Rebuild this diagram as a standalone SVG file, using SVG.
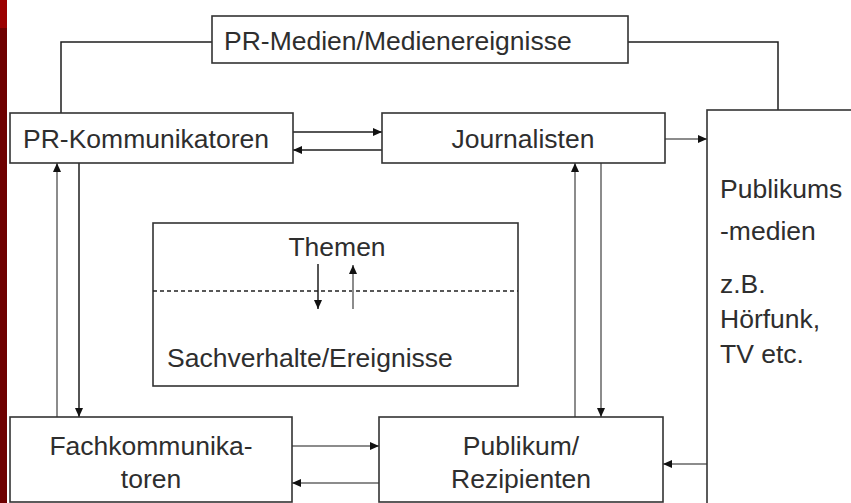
<svg xmlns="http://www.w3.org/2000/svg" width="851" height="503" viewBox="0 0 851 503">
<style>
.box{fill:#fff;stroke:#333;stroke-width:1.6}
.t{font-family:"Liberation Sans",Arial,sans-serif;font-size:26.5px;fill:#2e2e2e}
.c{text-anchor:middle}
.k{fill:none;stroke:#1e1e1e;stroke-width:1.5}
.g{fill:none;stroke:#8c8c8c;stroke-width:2}
</style>
<defs>
<marker id="ah" markerUnits="userSpaceOnUse" markerWidth="10" markerHeight="8" refX="9" refY="4" orient="auto">
<path d="M0,0 L9,4 L0,8 z" fill="#111"/>
</marker>
</defs>
<rect x="0" y="0" width="851" height="503" fill="#fff"/>
<rect x="0" y="0" width="7" height="503" fill="#6e0000"/>
<rect x="0" y="0" width="7" height="28" fill="#9b0000"/>

<g id="connectors">
<polyline class="k" points="212,42 61,42 61,113"/>
<polyline class="k" points="628,42 778,42 778,110"/>
<line class="k" x1="293" y1="132" x2="382" y2="132" marker-end="url(#ah)"/>
<line class="k" x1="382" y1="150" x2="293" y2="150" marker-end="url(#ah)"/>
<line class="g" x1="665" y1="139" x2="707" y2="139" marker-end="url(#ah)"/>
<line class="k" x1="79" y1="163" x2="79" y2="417" marker-end="url(#ah)"/>
<line class="g" x1="57" y1="417" x2="57" y2="163" marker-end="url(#ah)"/>
<line class="g" x1="575" y1="417" x2="575" y2="163" marker-end="url(#ah)"/>
<line class="g" x1="601" y1="163" x2="601" y2="417" marker-end="url(#ah)"/>
<line class="g" x1="292" y1="446" x2="379" y2="446" marker-end="url(#ah)"/>
<line class="g" x1="379" y1="483" x2="292" y2="483" marker-end="url(#ah)"/>
<line class="g" x1="707" y1="464" x2="663" y2="464" marker-end="url(#ah)"/>
</g>

<g id="pr-medien">
<rect class="box" x="212" y="16" width="416" height="47"/>
<text class="t" x="224" y="50">PR-Medien/Medienereignisse</text>
</g>

<g id="pr-kommunikatoren">
<rect class="box" x="10" y="113" width="283" height="50"/>
<text class="t" x="23" y="148">PR-Kommunikatoren</text>
</g>

<g id="journalisten">
<rect class="box" x="382" y="113" width="283" height="50"/>
<text class="t c" x="523" y="148">Journalisten</text>
</g>

<g id="publikumsmedien">
<rect class="box" x="707" y="110" width="170" height="420"/>
<text class="t" x="720" y="198">Publikums</text>
<text class="t" x="720" y="240">-medien</text>
<text class="t" x="720" y="293">z.B.</text>
<text class="t" x="720" y="328">Hörfunk,</text>
<text class="t" x="720" y="363">TV etc.</text>
</g>

<g id="themen">
<rect class="box" x="153" y="223" width="365" height="163"/>
<line x1="153" y1="291" x2="518" y2="291" stroke="#222" stroke-width="1.3" stroke-dasharray="4,3"/>
<text class="t c" x="337" y="256">Themen</text>
<line class="k" x1="318" y1="264" x2="318" y2="309" marker-end="url(#ah)"/>
<line class="g" x1="353" y1="309" x2="353" y2="265" marker-end="url(#ah)"/>
<text class="t" x="167" y="367">Sachverhalte/Ereignisse</text>
</g>

<g id="fachkommunikatoren">
<rect class="box" x="10" y="417" width="282" height="85"/>
<text class="t c" x="151" y="455">Fachkommunika-</text>
<text class="t c" x="151" y="488">toren</text>
</g>

<g id="publikum">
<rect class="box" x="379" y="417" width="284" height="85"/>
<text class="t c" x="521" y="455">Publikum/</text>
<text class="t c" x="521" y="488">Rezipienten</text>
</g>
</svg>
